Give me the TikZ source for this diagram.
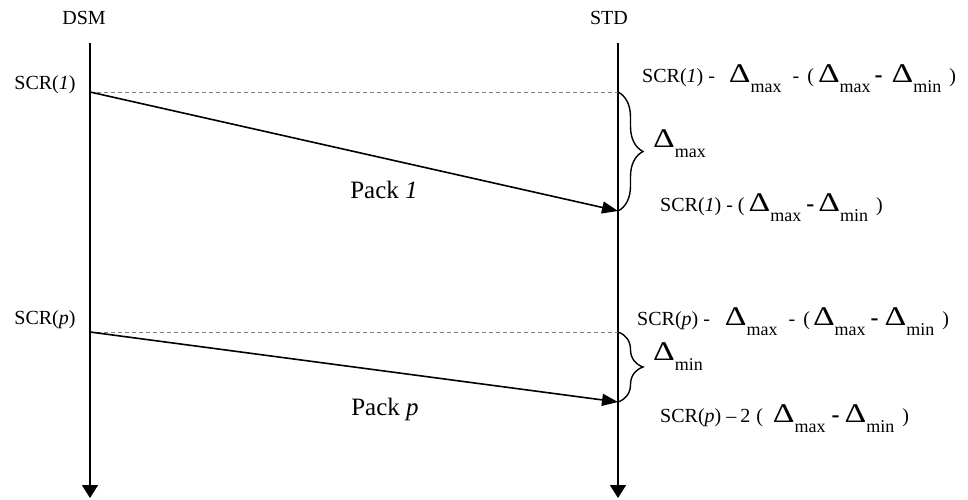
\documentclass[tikz,border=0pt]{standalone}
\usepackage{fontspec}
\setmainfont{Liberation Serif}
\usepackage{graphicx}
\usetikzlibrary{arrows.meta,decorations.pathreplacing,positioning}

% big Delta with lowered index
\newcommand{\dlt}[1]{\scalebox{1.25}[1]{\fontsize{27}{30}\selectfont Δ}\raisebox{-10pt}{\fontsize{18}{20}\selectfont #1}}
\newcommand{\bminus}{{\fontsize{24}{26}\selectfont\bfseries -}}
\newcommand{\gp}[1]{\hspace{#1pt}}

\begin{document}
\begin{tikzpicture}[x=1pt, y=-1pt,
  every node/.style={inner sep=0pt, font=\fontsize{20}{24}\selectfont},
  axis/.style={line width=1.6pt, -{Triangle[length=13pt,width=16pt]}},
  pack/.style={line width=1.6pt, -{Triangle[length=16pt,width=12pt]}},
  guide/.style={gray, line width=0.9pt, dash pattern=on 4pt off 3pt},
  gap/.style={line width=1.4pt, decorate, decoration={brace, amplitude=25pt}},
  packlabel/.style={anchor=base, font=\fontsize{25}{30}\selectfont},
  bound/.style={anchor=base west}]

\useasboundingbox (0,0) rectangle (968,500);

  % time lines
  \coordinate (dsmtop) at (90,43);
  \coordinate (dsmbot) at (90,498);
  \coordinate (stdtop) at (618,43);
  \coordinate (stdbot) at (618,498);
  \node (dsm) at (84,18) {DSM};
  \node (std) at (609,18) {STD};
  \draw[axis] (dsmtop) -- (dsmbot);
  \draw[axis] (stdtop) -- (stdbot);

  % first packet
  \coordinate (send1) at (90,92);
  \coordinate (ref1) at (618,92);
  \coordinate (recv1) at (618,211);
  \node (scr1) at (45,85) {SCR(\textit{1})};
  \draw[guide] (send1) -- (ref1);
  \draw[pack] (send1) -- (recv1);
  \node[packlabel] (pack1) at (384,198) {Pack \textit{1}};
  \draw[gap] (ref1) -- (recv1);
  \node[bound] (top1) at (642,83)
    {SCR(\textit{1}) -\gp{14}\dlt{max}\gp{11}-\gp{8}(\gp{4}\dlt{max}\gp{4}\bminus\gp{9}\dlt{min}\gp{8})};
  \node[bound] (dmax) at (653,147) {\dlt{max}};
  \node[bound] (bot1) at (660,211)
    {SCR(\textit{1}) - (\gp{4}\dlt{max}\gp{5}\bminus\gp{4}\dlt{min}\gp{8})};

  % packet p
  \coordinate (sendp) at (90,332);
  \coordinate (refp) at (618,332);
  \coordinate (recvp) at (618,402);
  \node (scrp) at (45,320) {SCR(\textit{p})};
  \draw[guide] (sendp) -- (refp);
  \draw[pack] (sendp) -- (recvp);
  \node[packlabel] (packp) at (385,415) {Pack \textit{p}};
  \draw[gap] (refp) -- (recvp);
  \node[bound] (topp) at (637,325)
    {SCR(\textit{p}) -\gp{15}\dlt{max}\gp{11}-\gp{8}(\gp{3}\dlt{max}\gp{5}\bminus\gp{6}\dlt{min}\gp{8})};
  \node[bound] (dmin) at (653,360) {\dlt{min}};
  \node[bound] (botp) at (660,422)
    {SCR(\textit{p})\gp{5}–\gp{4}2\gp{6}(\gp{10}\dlt{max}\gp{6}\bminus\gp{5}\dlt{min}\gp{8})};

\end{tikzpicture}
\end{document}
